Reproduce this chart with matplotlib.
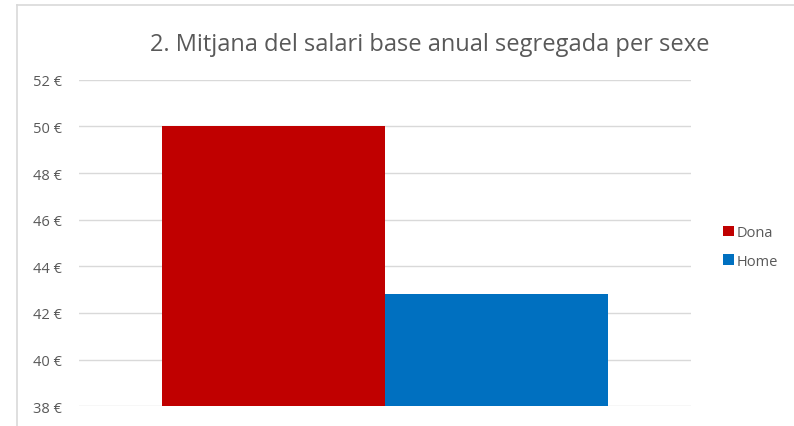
import matplotlib
matplotlib.use("Agg")
import matplotlib.pyplot as plt
from matplotlib.patches import Patch
from matplotlib.lines import Line2D

# data
series = ["Dona", "Home"]
values = [50.0, 42.8]
colors = ["#C00000", "#0070C0"]
yticks = [38, 40, 42, 44, 46, 48, 50, 52]

plt.rcParams['font.family'] = ['Open Sans', 'DejaVu Sans']

fig = plt.figure(figsize=(7.94, 4.27), dpi=100)
ax = fig.add_axes([79 / 794, 1 - 407.3 / 427, 612 / 794, (407.3 - 80.7) / 427])

w = 0.3644
offsets = [-w / 2, w / 2]
for name, val, col, off in zip(series, values, colors, offsets):
    ax.bar(off, val - yticks[0], bottom=yticks[0], width=w, color=col, label=name, zorder=3)

ax.set_xlim(-0.5, 0.5)
ax.set_ylim(yticks[0], yticks[-1])
ax.set_yticks(yticks)
ax.set_yticklabels([f"{v} €" for v in yticks])
ax.set_xticks([])
ax.tick_params(axis='y', length=0, pad=12, labelsize=10.5, labelcolor="#595959")
ax.grid(axis='y', color="#D9D9D9", linewidth=1, zorder=0)
for s in ax.spines.values():
    s.set_visible(False)

fig.text(430 / 794, 1 - 45 / 427, "2. Mitjana del salari base anual segregada per sexe",
         ha='center', va='center', fontsize=17, color="#595959")

handles = [Patch(facecolor=c, edgecolor='none') for c in colors]
fig.legend(handles, series, loc='center left', bbox_to_anchor=(716 / 794, 1 - 248 / 427),
           frameon=False, fontsize=10.5, labelcolor="#595959", handlelength=0.7,
           handleheight=0.7, handletextpad=0.2, labelspacing=0.9, borderpad=0)

# chart frame
fig.add_artist(Line2D([16.5 / 794, 1], [1 - 5.5 / 427, 1 - 5.5 / 427], transform=fig.transFigure,
                      color="#D9D9D9", linewidth=1.2))
fig.add_artist(Line2D([16.5 / 794, 16.5 / 794], [0, 1 - 5.5 / 427], transform=fig.transFigure,
                      color="#D9D9D9", linewidth=1.2))

fig.savefig("out.png", dpi=100)
